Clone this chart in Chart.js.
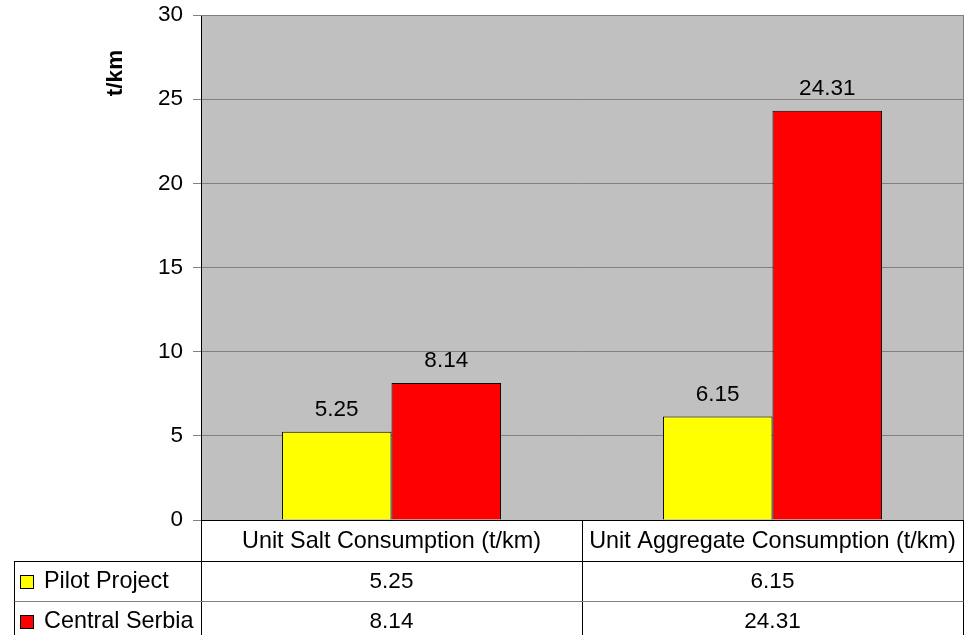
<!DOCTYPE html>
<html>
<head>
<meta charset="utf-8">
<script src="https://cdn.jsdelivr.net/npm/chart.js@4/dist/chart.umd.min.js"></script>
<style>
  html, body { margin: 0; padding: 0; background: #ffffff; }
  #wrap { width: 968px; height: 635px; }
</style>
</head>
<body>
<div id="wrap"><canvas id="c" width="968" height="635"></canvas></div>
<script>
// Categories, series and axis settings
const categories = ['Unit Salt Consumption (t/km)', 'Unit Aggregate Consumption (t/km)'];
const seriesNames = ['Pilot Project', 'Central Serbia'];
const pilotProject = [5.25, 6.15];
const centralSerbia = [8.14, 24.31];
const seriesColors = ['#FFFF00', '#FF0000'];
const yAxisTitle = 't/km';
const yMin = 0, yMax = 30, yStep = 5;

const FONT = '"Liberation Sans", Arial, sans-serif';
const FS = 22.5;     // numbers
const FS_TXT = 23.4; // words

// Plot background, value labels, axis title and the data table under the plot
const tablePlugin = {
  id: 'dataTable',
  beforeDraw(chart) {
    const { ctx, chartArea: a } = chart;
    ctx.save();
    ctx.fillStyle = '#C0C0C0';
    ctx.fillRect(a.left, a.top, a.right - a.left, a.bottom - a.top);
    ctx.restore();
  },
  afterDraw(chart) {
    const { ctx, chartArea: a, scales } = chart;
    const xs = scales.x;
    const n = categories.length;
    const catW = (a.right - a.left) / n;
    ctx.save();

    // plot frame: top and right edges
    ctx.strokeStyle = '#808080';
    ctx.lineWidth = 1;
    ctx.beginPath();
    ctx.moveTo(a.left, Math.round(a.top) + 0.5);
    ctx.lineTo(a.right + 0.5, Math.round(a.top) + 0.5);
    ctx.moveTo(Math.round(a.right) + 0.5, a.top);
    ctx.lineTo(Math.round(a.right) + 0.5, a.bottom);
    ctx.stroke();

    // value labels above each bar
    ctx.fillStyle = '#000000';
    ctx.font = `${FS}px ${FONT}`;
    ctx.textAlign = 'center';
    ctx.textBaseline = 'middle';
    chart.data.datasets.forEach((ds, di) => {
      const meta = chart.getDatasetMeta(di);
      meta.data.forEach((bar, i) => {
        ctx.fillText(ds.data[i].toFixed(2), bar.x, bar.y - 22);
      });
    });

    // rotated axis title
    ctx.save();
    ctx.font = `bold ${FS}px ${FONT}`;
    ctx.translate(116, 73);
    ctx.rotate(-Math.PI / 2);
    ctx.fillText(yAxisTitle, 0, 0);
    ctx.restore();

    // data table
    const top = Math.round(a.bottom);
    const row0 = top + 41;
    const row1 = row0 + 40;
    const tableLeft = 14;
    const tableBottom = chart.height + 10;
    const L = Math.round(a.left) + 0.5;
    const R = Math.round(a.right) + 0.5;

    ctx.lineWidth = 1;
    ctx.strokeStyle = '#000000';
    ctx.beginPath();
    ctx.moveTo(L, top + 0.5); ctx.lineTo(R, top + 0.5);
    ctx.moveTo(tableLeft + 0.5, row0 + 0.5); ctx.lineTo(R, row0 + 0.5);
    ctx.moveTo(L, top); ctx.lineTo(L, tableBottom);
    ctx.moveTo(tableLeft + 0.5, row0); ctx.lineTo(tableLeft + 0.5, tableBottom);
    for (let i = 1; i <= n; i++) {
      const bx = Math.round(a.left + catW * i) + 0.5;
      ctx.moveTo(bx, top); ctx.lineTo(bx, tableBottom);
    }
    ctx.stroke();
    ctx.strokeStyle = '#808080';
    ctx.beginPath();
    ctx.moveTo(tableLeft + 0.5, row1 + 0.5); ctx.lineTo(R, row1 + 0.5);
    ctx.stroke();

    ctx.fillStyle = '#000000';
    ctx.textAlign = 'center';
    ctx.textBaseline = 'middle';
    ctx.font = `${FS_TXT}px ${FONT}`;
    categories.forEach((c, i) => {
      ctx.fillText(c, xs.getPixelForValue(i), top + 22);
    });
    const rows = [pilotProject, centralSerbia];
    const rowCenters = [row0 + 21, row1 + 21];
    rows.forEach((vals, r) => {
      ctx.font = `${FS}px ${FONT}`;
      vals.forEach((v, i) => {
        ctx.fillText(v.toFixed(2), xs.getPixelForValue(i), rowCenters[r]);
      });
      // legend key + series name
      ctx.fillStyle = seriesColors[r];
      ctx.fillRect(21, rowCenters[r] - 6, 13, 13);
      ctx.strokeStyle = '#000000';
      ctx.strokeRect(20.5, rowCenters[r] - 6.5, 13, 13);
      ctx.fillStyle = '#000000';
      ctx.textAlign = 'left';
      ctx.font = `${FS_TXT}px ${FONT}`;
      ctx.fillText(seriesNames[r], 44, rowCenters[r]);
      ctx.textAlign = 'center';
    });

    ctx.restore();
  }
};

new Chart(document.getElementById('c'), {
  type: 'bar',
  data: {
    labels: categories,
    datasets: [
      { label: seriesNames[0], data: pilotProject, backgroundColor: seriesColors[0], borderColor: '#000000', borderWidth: 1 },
      { label: seriesNames[1], data: centralSerbia, backgroundColor: seriesColors[1], borderColor: '#000000', borderWidth: 1 }
    ]
  },
  options: {
    responsive: false,
    animation: false,
    devicePixelRatio: 1,
    layout: { padding: { left: 0, right: 5, top: 15, bottom: 115 } },
    datasets: { bar: { categoryPercentage: 0.575, barPercentage: 1.0 } },
    plugins: { legend: { display: false }, tooltip: { enabled: false } },
    scales: {
      x: { display: false },
      y: {
        min: yMin, max: yMax,
        afterFit(scale) { scale.width = 201; scale.paddingTop = 0; scale.paddingBottom = 0; },
        ticks: { stepSize: yStep, color: '#000000', padding: 10, font: { family: FONT, size: FS } },
        grid: { color: '#808080', lineWidth: 1, tickLength: 8, drawTicks: true },
        border: { color: '#000000', width: 1 }
      }
    }
  },
  plugins: [tablePlugin]
});
</script>
</body>
</html>
